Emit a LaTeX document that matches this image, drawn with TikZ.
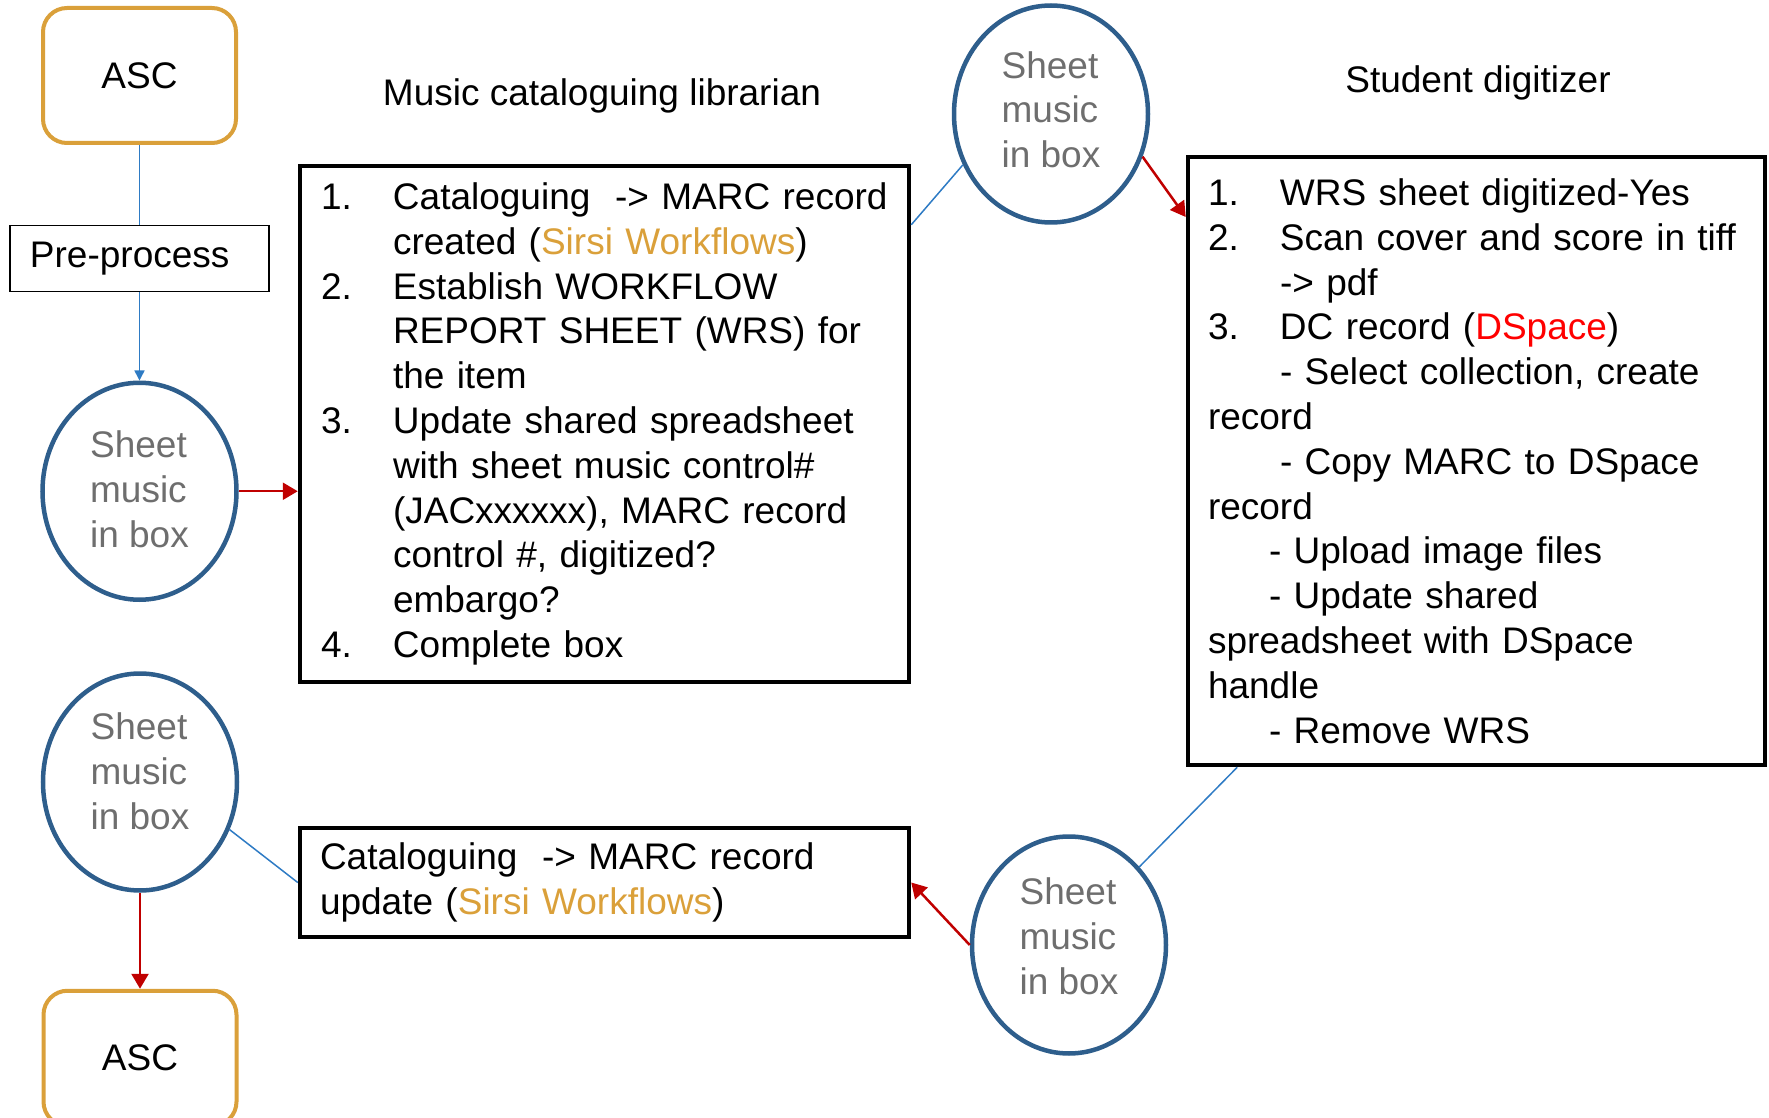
\documentclass[tikz,border=0pt]{standalone}
\usepackage{fontspec}
\setmainfont{Liberation Sans}
\usepackage{xcolor}
\usetikzlibrary{positioning, arrows.meta, shapes.geometric}

\definecolor{ascorange}{RGB}{218,160,58}
\definecolor{sheetblue}{RGB}{46,94,140}
\definecolor{sheetgray}{RGB}{110,110,110}
\definecolor{linkblue}{RGB}{46,123,196}
\definecolor{flowred}{RGB}{192,0,0}
\definecolor{dspacered}{RGB}{255,0,0}

\newcommand{\itemnum}[1]{\makebox[36pt][l]{#1}}
\newcommand{\listindent}{\hspace*{36pt}}
\newcommand{\subindent}{\hspace*{30.5pt}}

\begin{document}
\begin{tikzpicture}[x=0.5pt, y=0.5pt,
        every node/.style={font=\fontsize{18.5pt}{22.4pt}\selectfont},
        ascbox/.style={rectangle, draw=ascorange, line width=2pt, rounded corners=12pt, minimum width=96.5pt, minimum height=67.5pt},
        sheet/.style={ellipse, draw=sheetblue, line width=2.25pt, minimum width=97pt, minimum height=108.5pt, inner sep=0pt, text=sheetgray, align=left, text depth=6pt},
        listbox/.style={rectangle, draw, line width=2.25pt, align=left, inner ysep=0pt},
        link/.style={linkblue, line width=0.75pt},
        flow/.style={flowred, line width=1.25pt, -{Triangle[length=7.5pt, width=8.5pt]}}]
        \useasboundingbox (0,0) rectangle (1769,-1118);
        % Left column
        \node[ascbox] (ascin) at (139.5,-75.5) {ASC};
        \node[rectangle, draw, line width=0.75pt, minimum height=33pt, text width=109.5pt, inner xsep=10pt, align=left, below=40pt of ascin] (preproc) {Pre-process};
        \node[sheet, below=44pt of preproc, text depth=2pt] (sheetin) {Sheet\\music\\in box};
        \node[sheet, text depth=11pt] (sheetout) at (140,-782) {Sheet\\music\\in box};
        \node[ascbox, below=48pt of sheetout] (ascout) {ASC};
        % Librarian
        \node (libtitle) at (602,-95.5) {Music cataloguing librarian};
        \node[listbox, text width=283.5pt, inner xsep=10.5pt, minimum height=258pt] (catlist) at (604.5,-424) {%
            \itemnum{1.}Cataloguing\ \ -> MARC record\\
            \listindent created (\textcolor{ascorange}{Sirsi Workflows})\\
            \itemnum{2.}Establish WORKFLOW\\
            \listindent REPORT SHEET (WRS) for\\
            \listindent the item\\
            \itemnum{3.}Update shared spreadsheet\\
            \listindent with sheet music control\#\\
            \listindent (JACxxxxxx), MARC record\\
            \listindent control \#, digitized?\\
            \listindent embargo?\\
            \itemnum{4.}Complete box};
        \node[listbox, text width=284.5pt, inner xsep=10pt, minimum height=54.5pt] (catupdate) at (604.5,-882.5) {%
            Cataloguing\ \ -> MARC record\\
            update (\textcolor{ascorange}{Sirsi Workflows})};
        % Digitizer
        \node[sheet, text depth=4.5pt] (sheettop) at (1051,-114) {Sheet\\music\\in box};
        \node (digititle) at (1478,-82.5) {Student digitizer};
        \node[listbox, text width=268.5pt, inner xsep=10pt, minimum height=304pt] (digilist) at (1476.5,-461) {%
            \itemnum{1.}WRS sheet digitized-Yes\\
            \itemnum{2.}Scan cover and score in tiff\\
            \listindent -> pdf\\
            \itemnum{3.}DC record (\textcolor{dspacered}{DSpace})\\
            \listindent - Select collection, create\\
            record\\
            \listindent - Copy MARC to DSpace\\
            record\\
            \subindent - Upload image files\\
            \subindent - Update shared\\
            spreadsheet with DSpace\\
            handle\\
            \subindent - Remove WRS};
        \node[sheet, text depth=9pt] (sheetback) at (1069,-945) {Sheet\\music\\in box};
        % Links
        \draw[link] (ascin) -- (preproc);
        \draw[link, -{Triangle[length=5pt, width=5pt]}] (preproc) -- (sheetin);
        \draw[link] (catlist.33.4) -- (sheettop.210);
        \draw[link] (digilist.232.2) -- (sheetback.48);
        \draw[link] (catupdate.west) -- (sheetout.-28);
        % Arrows
        \draw[flow] (sheetin.east) -- (sheetin.east -| catlist.west);
        \draw[flow] (sheettop.-25) -- (digilist.140.3);
        \draw[flow] (sheetback.west) -- (catupdate.east);
        \draw[flow] (sheetout) -- (ascout);
    \end{tikzpicture}
\end{document}
